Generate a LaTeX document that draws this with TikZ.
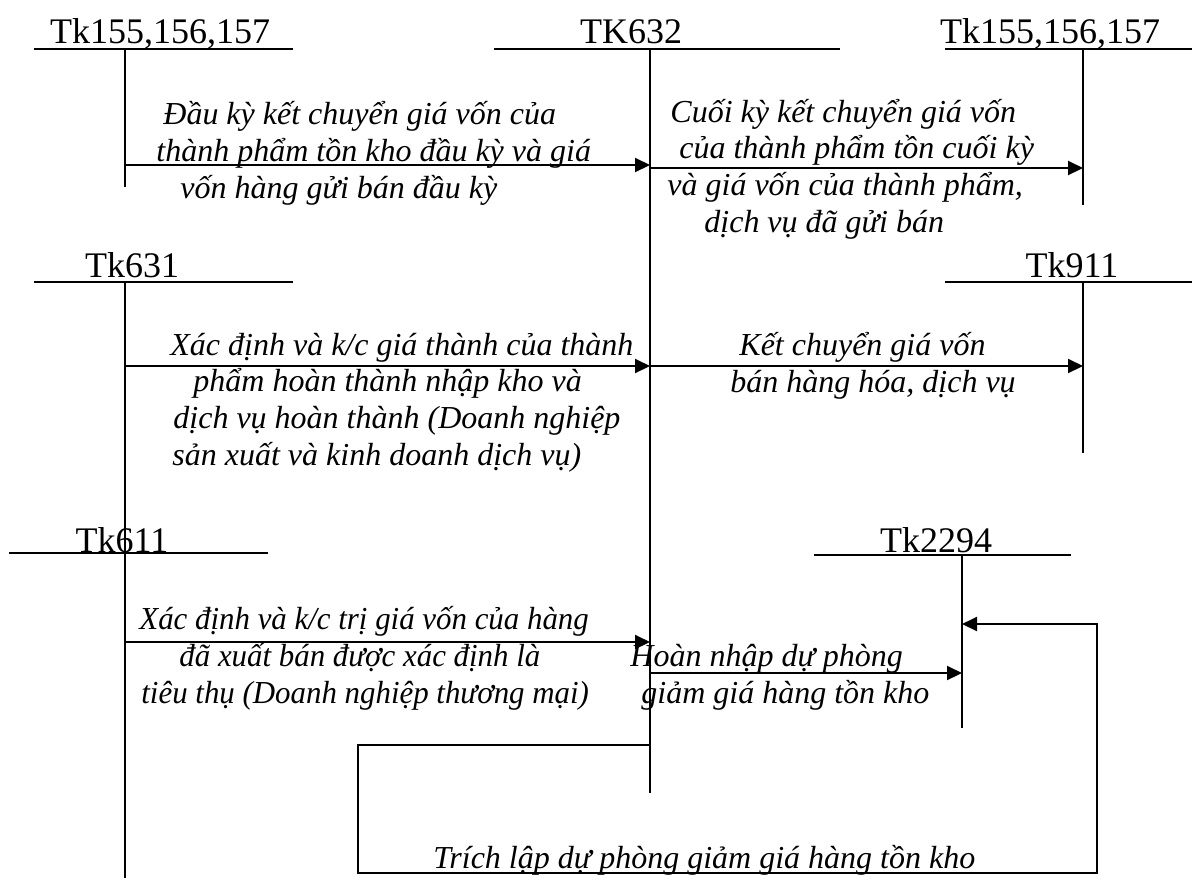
\documentclass[tikz,border=0pt]{standalone}
\usepackage{fontspec}
\setmainfont{Liberation Serif}
\newfontfamily\narrowfont[FakeStretch=0.965]{Liberation Serif}
\usetikzlibrary{arrows.meta}

\begin{document}
\begin{tikzpicture}[x=0.5pt,y=-0.5pt,
	acc/.style={font=\fontsize{18}{20}\selectfont,anchor=base,inner sep=0pt},
	tline/.style={line width=1.35pt},
	stem/.style={line width=1pt},
	note/.style={font=\fontsize{16}{18.3}\selectfont\itshape,align=left,anchor=base west,inner sep=0pt},
	flow/.style={line width=1pt,-{Triangle[length=7.5pt,width=7pt]}}]
	\useasboundingbox (0,0) rectangle (1192,879);
	% tai khoan
	\node[acc] (tk155a) at (160,43) {Tk155,156,157};
	\node[acc] (tk632) at (631,43) {TK632};
	\node[acc] (tk155b) at (1050,43) {Tk155,156,157};
	\node[acc] (tk631) at (132,277) {Tk631};
	\node[acc] (tk911) at (1072,277) {Tk911};
	\node[acc] (tk611) at (122,552) {Tk611};
	\node[acc] (tk2294) at (936,552) {Tk2294};
	\draw[tline] (34,49) -- (293,49);
	\draw[tline] (494,49) -- (840,49);
	\draw[tline] (945,49) -- (1192,49);
	\draw[tline] (34,282) -- (293,282);
	\draw[tline] (945,282) -- (1192,282);
	\draw[tline] (9,553) -- (268,553);
	\draw[tline] (814,555) -- (1071,555);
	\draw[stem] (125,49) -- (125,187);
	\draw[stem] (650,49) -- (650,793);
	\draw[stem] (1083,49) -- (1083,205);
	\draw[stem] (125,282) -- (125,878);
	\draw[stem] (1083,282) -- (1083,453);
	\draw[stem] (962,555) -- (962,728);
	% diem dau, diem cuoi
	\coordinate (s1) at (125,165); \coordinate (d1) at (650,165);
	\coordinate (s2) at (650,168); \coordinate (d2) at (1083,168);
	\coordinate (s3) at (125,366); \coordinate (d3) at (650,366);
	\coordinate (s4) at (650,366); \coordinate (d4) at (1083,366);
	\coordinate (s5) at (125,642); \coordinate (d5) at (650,642);
	\coordinate (s6) at (650,673); \coordinate (d6) at (962,673);
	\coordinate (s7) at (650,745); \coordinate (d7) at (962,624);
	\draw[flow] (s1) -- (d1);
	\draw[flow] (s2) -- (d2);
	\draw[flow] (s3) -- (d3);
	\draw[flow] (s4) -- (d4);
	\draw[flow] (s5) -- (d5);
	\draw[flow] (s6) -- (d6);
	\draw[flow] (s7) -- (358,745) |- (1097,873) |- (d7);
	% dien giai
	\node[note] (dauky) at (156,198) {\hspace*{3.5pt}Đầu kỳ kết chuyển giá vốn của\\thành phẩm tồn kho đầu kỳ và giá\\\hspace*{12pt}vốn hàng gửi bán đầu kỳ};
	\node[note] (cuoiky) at (667,232) {\hspace*{1.5pt}Cuối kỳ kết chuyển giá vốn\\\hspace*{6pt}của thành phẩm tồn cuối kỳ\\và giá vốn của thành phẩm,\\\hspace*{18.5pt}dịch vụ đã gửi bán};
	\node[note] (giathanh) at (170,465) {Xác định và k/c giá thành của thành\\\hspace*{11.5pt}phẩm hoàn thành nhập kho và\\\hspace*{1.5pt}dịch vụ hoàn thành (Doanh nghiệp\\\hspace*{1pt}sản xuất và kinh doanh dịch vụ)};
	\node[note] (ketchuyen) at (730,392) {\hspace*{4.5pt}Kết chuyển giá vốn\\bán hàng hóa, dịch vụ};
	\node[note,font=\fontsize{16}{18.3}\selectfont\narrowfont\itshape] (thuongmai) at (139,703) {Xác định và k/c trị giá vốn của hàng\\\hspace*{20pt}đã xuất bán được xác định là\\\hspace*{1pt}tiêu thụ (Doanh nghiệp thương mại)};
	\node[note] (hoannhap) at (630,703) {Hoàn nhập dự phòng\\\hspace*{5.5pt}giảm giá hàng tồn kho};
	\node[note] (trichlap) at (433,868) {Trích lập dự phòng giảm giá hàng tồn kho};
\end{tikzpicture}
\end{document}
